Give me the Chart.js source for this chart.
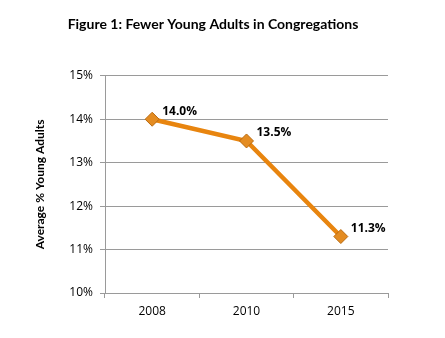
<!DOCTYPE html>
<html>
<head>
<meta charset="utf-8">
<script src="https://cdn.jsdelivr.net/npm/chart.js@4"></script>
<style>
html,body{margin:0;padding:0;background:#fff;}
#wrap{width:445px;height:338px;}
</style>
</head>
<body>
<div id="wrap"><canvas id="c" width="445" height="338"></canvas></div>
<script>
const categories = ["2008", "2010", "2015"];
const values = [14.0, 13.5, 11.3];
const valueLabels = ["14.0%", "13.5%", "11.3%"];
const yTicks = [10, 11, 12, 13, 14, 15];
const titleText = "Figure 1: Fewer Young Adults in Congregations";
const yTitle = "Average % Young Adults";

const labelPlugin = {
  id: 'valueLabels',
  afterDatasetsDraw(chart) {
    const ctx = chart.ctx;
    const meta = chart.getDatasetMeta(0);
    ctx.save();
    ctx.font = "bold 12px 'Open Sans', 'DejaVu Sans', sans-serif";
    ctx.fillStyle = '#000';
    ctx.textAlign = 'left';
    ctx.textBaseline = 'middle';
    meta.data.forEach((pt, i) => {
      ctx.fillText(valueLabels[i], pt.x + 10, pt.y - 8);
    });
    ctx.restore();
  }
};

new Chart(document.getElementById('c'), {
  type: 'line',
  data: {
    labels: categories,
    datasets: [{
      data: values,
      borderColor: '#E8850F',
      borderWidth: 4.5,
      pointStyle: 'rectRot',
      pointRadius: 7,
      pointBackgroundColor: '#E48C22',
      pointBorderColor: '#B8690F',
      pointBorderWidth: 1,
      tension: 0,
      fill: false
    }]
  },
  options: {
    responsive: false,
    animation: false,
    devicePixelRatio: 1,
    layout: { padding: { left: 38, right: 57, top: 0, bottom: 0 } },
    plugins: {
      legend: { display: false },
      tooltip: { enabled: false },
      title: {
        display: true,
        text: titleText,
        color: '#000',
        font: { family: "Lato, 'Open Sans', sans-serif", size: 14, weight: 'bold' },
        padding: { top: 16, bottom: 43 }
      }
    },
    scales: {
      x: {
        offset: true,
        grid: { display: true, drawOnChartArea: false, drawTicks: true, tickLength: 5, color: '#9A9A9A', offset: true },
        border: { display: true, color: '#9A9A9A', width: 1 },
        ticks: { color: '#000', font: { family: "'Open Sans', 'DejaVu Sans', sans-serif", size: 12 }, padding: 6 },
        afterFit(scale) { scale.height = 45; }
      },
      y: {
        min: 10,
        max: 15,
        afterBuildTicks(scale) { scale.ticks = yTicks.map(v => ({ value: v })); },
        grid: { color: '#9A9A9A', tickLength: 5, drawTicks: true },
        border: { display: true, color: '#9A9A9A', width: 1 },
        ticks: {
          color: '#000',
          font: { family: "'Open Sans', 'DejaVu Sans', sans-serif", size: 12 },
          padding: 7,
          callback: (v) => v + '%'
        },
        title: {
          display: true,
          text: yTitle,
          color: '#000',
          font: { family: "Lato, 'Open Sans', sans-serif", size: 12, weight: 'bold' },
          padding: { top: -5, bottom: 0 }
        },
        afterFit(scale) { scale.width = 67; }
      }
    }
  },
  plugins: [labelPlugin]
});
</script>
</body>
</html>
